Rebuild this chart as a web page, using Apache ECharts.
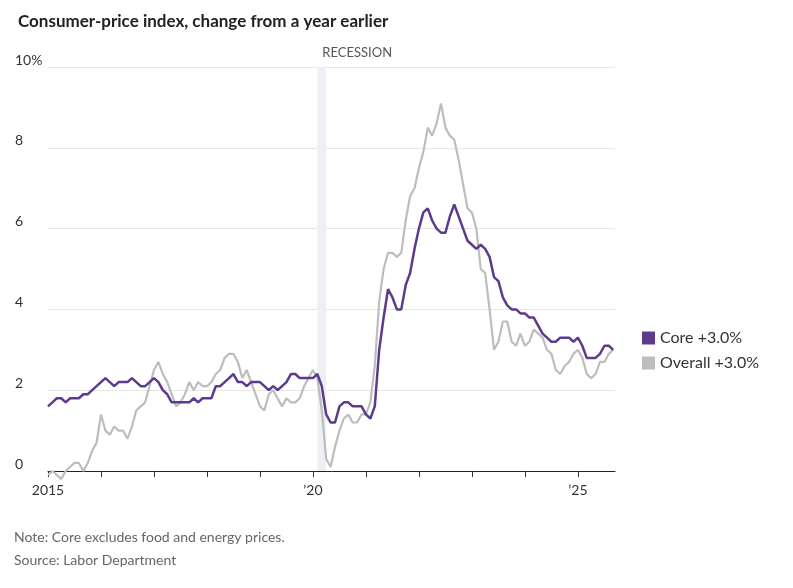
<!DOCTYPE html>
<html><head><meta charset="utf-8">
<script src="https://cdn.jsdelivr.net/npm/echarts@6/dist/echarts.min.js"></script>
<style>body{margin:0}#c{width:793px;height:588px}</style></head>
<body><div id="c"></div>
<script>
// monthly, Jan 2015 .. Sep 2025
var overall = [
 -0.1,0.0,-0.1,-0.2,0.0,0.1,0.2,0.2,0.0,0.2,0.5,0.7,
 1.4,1.0,0.9,1.1,1.0,1.0,0.8,1.1,1.5,1.6,1.7,2.1,
 2.5,2.7,2.4,2.2,1.9,1.6,1.7,1.9,2.2,2.0,2.2,2.1,
 2.1,2.2,2.4,2.5,2.8,2.9,2.9,2.7,2.3,2.5,2.2,1.9,
 1.6,1.5,1.9,2.0,1.8,1.6,1.8,1.7,1.7,1.8,2.1,2.3,
 2.5,2.3,1.5,0.3,0.1,0.6,1.0,1.3,1.4,1.2,1.2,1.4,
 1.4,1.7,2.6,4.2,5.0,5.4,5.4,5.3,5.4,6.2,6.8,7.0,
 7.5,7.9,8.5,8.3,8.6,9.1,8.5,8.3,8.2,7.7,7.1,6.5,
 6.4,6.0,5.0,4.9,4.0,3.0,3.2,3.7,3.7,3.2,3.1,3.4,
 3.1,3.2,3.5,3.4,3.3,3.0,2.9,2.5,2.4,2.6,2.7,2.9,
 3.0,2.8,2.4,2.3,2.4,2.7,2.7,2.9,3.0];
var core = [
 1.6,1.7,1.8,1.8,1.7,1.8,1.8,1.8,1.9,1.9,2.0,2.1,
 2.2,2.3,2.2,2.1,2.2,2.2,2.2,2.3,2.2,2.1,2.1,2.2,
 2.3,2.2,2.0,1.9,1.7,1.7,1.7,1.7,1.7,1.8,1.7,1.8,
 1.8,1.8,2.1,2.1,2.2,2.3,2.4,2.2,2.2,2.1,2.2,2.2,
 2.2,2.1,2.0,2.1,2.0,2.1,2.2,2.4,2.4,2.3,2.3,2.3,
 2.3,2.4,2.1,1.4,1.2,1.2,1.6,1.7,1.7,1.6,1.6,1.6,
 1.4,1.3,1.6,3.0,3.8,4.5,4.3,4.0,4.0,4.6,4.9,5.5,
 6.0,6.4,6.5,6.2,6.0,5.9,5.9,6.3,6.6,6.3,6.0,5.7,
 5.6,5.5,5.6,5.5,5.3,4.8,4.7,4.3,4.1,4.0,4.0,3.9,
 3.9,3.8,3.8,3.6,3.4,3.3,3.2,3.2,3.3,3.3,3.3,3.2,
 3.3,3.1,2.8,2.8,2.8,2.9,3.1,3.1,3.0];
var startYear = 2015;
var recession = [2020 + 1/12, 2020 + 3/12];
var yearLabels = {2015: '2015', 2020: '\u201920', 2025: '\u201925'};

function toPairs(arr) { return arr.map(function (v, i) { return [startYear + i / 12, v]; }); }

var font = 'Lato';
var chart = echarts.init(document.getElementById('c'));
chart.setOption({
  animation: false,
  textStyle: {fontFamily: font},
  title: {text: 'Consumer-price index, change from a year earlier', left: 13, top: 8,
    textStyle: {fontSize: 17, fontWeight: 'bold', color: '#222', fontFamily: font}},
  grid: {left: 48, right: 178, top: 67, bottom: 117},
  legend: {orient: 'vertical', left: 637, top: 325, icon: 'rect', itemWidth: 13, itemHeight: 13,
    itemGap: 9, textStyle: {fontSize: 16, color: '#333'},
    data: ['Core +3.0%', 'Overall +3.0%']},
  xAxis: {type: 'value', min: 2015, max: 2025.7, interval: 1,
    splitLine: {show: false},
    axisLine: {onZero: false, lineStyle: {color: '#222'}},
    axisTick: {show: true, length: 6, lineStyle: {color: '#333'}},
    axisLabel: {color: '#333', fontSize: 14, margin: 12, showMaxLabel: false,
      formatter: function (v) { return yearLabels[v] || ''; }}},
  yAxis: {type: 'value', min: 0, max: 10, interval: 2,
    axisLine: {show: false}, axisTick: {show: false},
    splitLine: {lineStyle: {color: '#e6e6e6'}},
    axisLabel: {color: '#333', fontSize: 14, align: 'left', margin: 33, verticalAlign: 'bottom',
      formatter: function (v) { return v === 10 ? '10%' : v; }}},
  series: [
    {name: 'Overall +3.0%', type: 'line', data: toPairs(overall), symbol: 'none', clip: false,
      color: '#bdbdbd', lineStyle: {width: 2.2, color: '#bdbdbd'},
      markArea: {silent: true, itemStyle: {color: '#eceff3'},
        label: {show: true, position: 'insideTopLeft', offset: [0, -26], color: '#555', fontSize: 13},
        data: [[{xAxis: recession[0], name: 'RECESSION'}, {xAxis: recession[1]}]]}},
    {name: 'Core +3.0%', type: 'line', data: toPairs(core), symbol: 'none', clip: false,
      color: '#5d3a8c', lineStyle: {width: 2.5, color: '#5d3a8c'}}
  ],
  graphic: [
    {type: 'text', left: 14, top: 530, style: {text: 'Note: Core excludes food and energy prices.', fill: '#666', fontSize: 14, fontFamily: font}},
    {type: 'text', left: 14, top: 553, style: {text: 'Source: Labor Department', fill: '#666', fontSize: 14, fontFamily: font}}
  ]
});
</script></body></html>
